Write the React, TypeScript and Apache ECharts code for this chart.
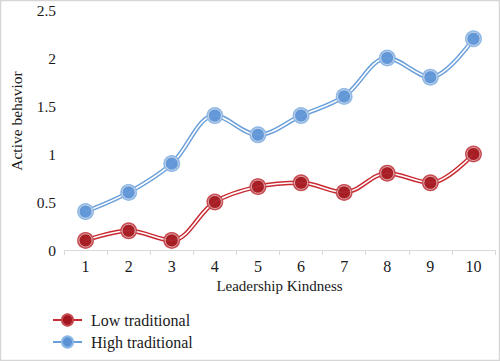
import React, { useEffect, useRef } from "react";
import * as echarts from "echarts";

const categories = ["1", "2", "3", "4", "5", "6", "7", "8", "9", "10"];
const lowTraditional = [0.1, 0.2, 0.1, 0.5, 0.66, 0.7, 0.6, 0.8, 0.7, 1.0];
const highTraditional = [0.4, 0.6, 0.9, 1.4, 1.2, 1.4, 1.6, 2.0, 1.8, 2.2];

const FONT = "Liberation Serif";

const RED = "#c82a32";
const RED_DARK = "#a3161e";
const RED_RING = "#c6474d";
const BLUE = "#6b9fd9";
const BLUE_DARK = "#5a92d4";
const BLUE_RING = "#8bb7e6";

function group(name: string, data: number[], line: string, dark: string, ring: string) {
  return [
    {
      name,
      type: "line",
      data,
      smooth: 0.35,
      symbol: "circle",
      symbolSize: 14,
      itemStyle: { color: dark, borderColor: ring, borderWidth: 2 },
      lineStyle: { color: line, width: 4.5 },
      z: 2,
    },
    {
      name: name + "_inner",
      type: "line",
      data,
      smooth: 0.35,
      showSymbol: false,
      lineStyle: { color: "#ffffff", width: 1.6 },
      z: 3,
      silent: true,
    },
    {
      name: name + "_ring",
      type: "scatter",
      data,
      symbol: "circle",
      symbolSize: 17,
      itemStyle: { color: ring },
      z: 4,
      silent: true,
    },
    {
      name: name + "_dot",
      type: "scatter",
      data,
      symbol: "circle",
      symbolSize: 13,
      itemStyle: { color: dark, borderColor: "#f4e9e9", borderWidth: 0.8 },
      z: 5,
      silent: true,
    },
  ];
}

export default function App() {
  const ref = useRef<HTMLDivElement>(null);
  useEffect(() => {
    if (!ref.current) return;
    const chart = echarts.init(ref.current, undefined, { renderer: "svg" });
    chart.setOption({
      animation: false,
      backgroundColor: "#ffffff",
      textStyle: { fontFamily: FONT },
      grid: { left: 51, right: 5, top: 10, bottom: 111, containLabel: false },
      graphic: [
        {
          type: "rect",
          shape: { x: 0.5, y: 0.5, width: 499, height: 360 },
          style: { fill: "none", stroke: "#d6d6d6", lineWidth: 1.5 },
          silent: true,
        },
      ],
      legend: {
        orient: "vertical",
        left: 52,
        top: 312,
        padding: 0,
        itemWidth: 29,
        itemHeight: 14,
        itemGap: 6,
        data: ["Low traditional", "High traditional"],
        textStyle: { fontFamily: FONT, fontSize: 16, color: "#1a1a1a", padding: [0, 0, 0, 4] },
      },
      xAxis: {
        type: "category",
        data: categories,
        boundaryGap: true,
        name: "Leadership Kindness",
        nameLocation: "middle",
        nameGap: 28,
        nameTextStyle: { fontFamily: FONT, fontSize: 15, color: "#1a1a1a" },
        axisLine: { lineStyle: { color: "#d9d9d9", width: 1 } },
        axisTick: { show: true, length: 5, lineStyle: { color: "#d9d9d9" } },
        axisLabel: { fontFamily: FONT, fontSize: 16, color: "#1a1a1a", margin: 8 },
      },
      yAxis: {
        type: "value",
        min: 0,
        max: 2.5,
        interval: 0.5,
        name: "Active behavior",
        nameLocation: "middle",
        nameGap: 40,
        nameTextStyle: { fontFamily: FONT, fontSize: 15.5, color: "#1a1a1a", padding: [0, 0, 0, 18] },
        axisLine: { show: false },
        axisTick: { show: false },
        splitLine: { show: false },
        axisLabel: { fontFamily: FONT, fontSize: 15.5, color: "#1a1a1a", margin: 8 },
      },
      series: [
        ...group("Low traditional", lowTraditional, RED, RED_DARK, RED_RING),
        ...group("High traditional", highTraditional, BLUE, BLUE_DARK, BLUE_RING),
      ],
    });
    return () => chart.dispose();
  }, []);
  return (
    <div
      ref={ref}
      style={{ position: "fixed", left: 0, top: 0, width: 500, height: 361 }}
    />
  );
}
